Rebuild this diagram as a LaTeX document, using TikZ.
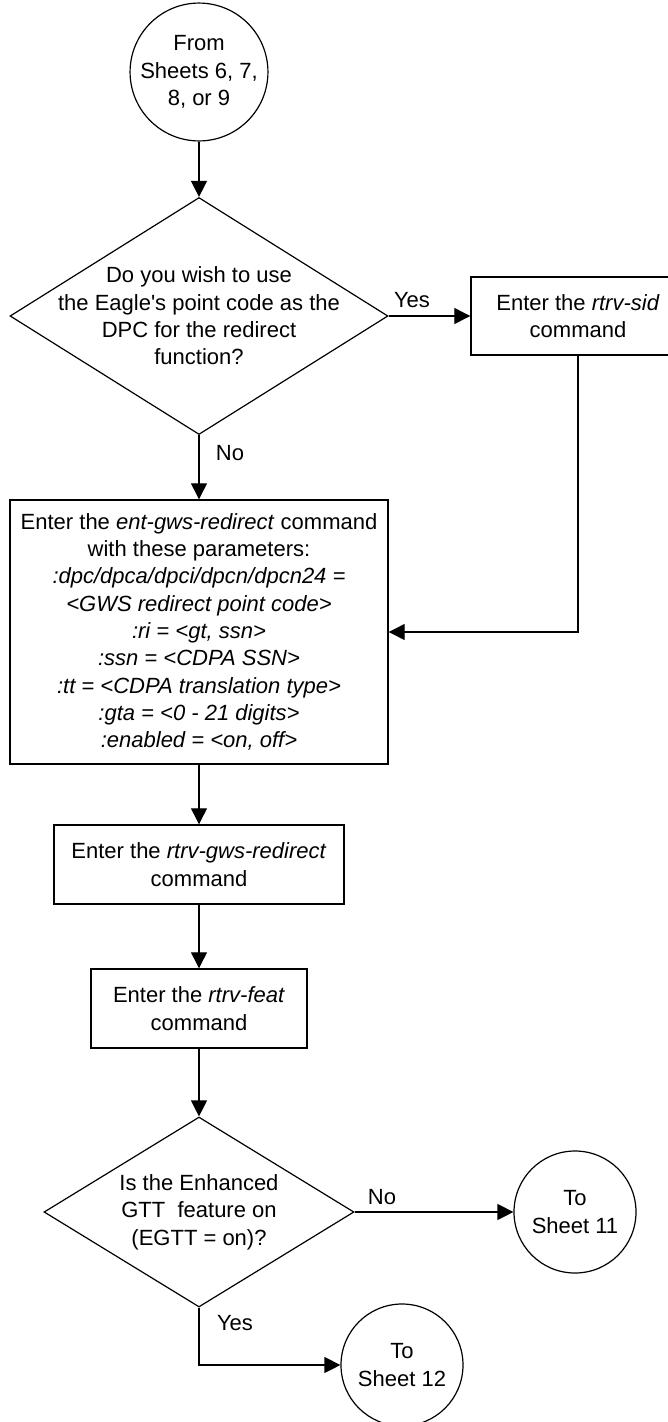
\documentclass[tikz,border=0pt]{standalone}
\usepackage{fontspec}
\setmainfont{Liberation Sans}
\usepackage{tikz}
\usetikzlibrary{shapes.geometric, arrows.meta, positioning}
\tikzset{
	procbox/.style={draw, rectangle, line width=1.4pt, align=center, inner sep=0pt}
}
\tikzset{
	decision/.style={draw, diamond, line width=1.2pt, inner sep=0pt}
}
\tikzset{
	sheetnode/.style={draw, circle, line width=1.2pt, align=center, inner sep=0pt, minimum size=#1}
}
\tikzset{
	flowarrow/.style={line width=1.2pt, -{Triangle[length=16pt,width=16pt]}}
}

\begin{document}
\begin{tikzpicture}[x=1pt, y=-1pt, font=\fontsize{22}{27.3}\selectfont]

			\useasboundingbox (0,0) rectangle (667,1422);

			\begin{scope}
				\coordinate (cFrom) at (199,72);
				\coordinate (cAsk) at (199,316);
				\coordinate (cSid) at (578,316);
				\coordinate (cEnt) at (199,632);
				\coordinate (cGws) at (199,864.5);
				\coordinate (cFeat) at (199,1008.5);
				\coordinate (cEgtt) at (199,1212);
				\coordinate (cTo11) at (575,1212);
				\coordinate (cTo12) at (402,1365);
			\end{scope}

			\begin{scope}
				\node[sheetnode=132pt] (from) at (cFrom) {From\\Sheets 6, 7,\\8, or 9};

				\node[decision, minimum width=378pt, minimum height=237pt,
					label={[align=center]center:Do you wish to use\\the Eagle\textquotesingle s point code as the\\DPC for the redirect\\function?}]
					(ask) at (cAsk) {};

				\node[procbox, minimum width=214pt, minimum height=78pt] (sid) at (cSid)
					{Enter the \textit{rtrv-sid}\\command};

				\node[procbox, minimum width=378pt, minimum height=264pt] (ent) at (cEnt)
					{Enter the \textit{ent-gws-redirect} command\\
					with these parameters:\\
					\textit{:dpc/dpca/dpci/dpcn/dpcn24 =}\\
					\textit{<GWS redirect point code>}\\
					\textit{:ri = <gt, ssn>}\\
					\textit{:ssn = <CDPA SSN>}\\
					\textit{:tt = <CDPA translation type>}\\
					\textit{:gta = <0 - 21 digits>}\\
					\textit{:enabled = <on, off>}};

				\node[procbox, minimum width=290pt, minimum height=79pt] (gws) at (cGws)
					{Enter the \textit{rtrv-gws-redirect}\\command};

				\node[procbox, minimum width=216pt, minimum height=79pt] (feat) at (cFeat)
					{Enter the \textit{rtrv-feat}\\command};

				\node[decision, minimum width=310pt, minimum height=190pt,
					label={[align=center]center:Is the Enhanced\\GTT\ \ feature on\\(EGTT = on)?}]
					(egtt) at (cEgtt) {};

				\node[sheetnode=122pt] (to11) at (cTo11) {To\\Sheet 11};
				\node[sheetnode=122pt] (to12) at (cTo12) {To\\Sheet 12};
			\end{scope}

			\begin{scope}
				\draw[flowarrow] (from) -- (ask);
				\draw[flowarrow] (ask.east) -- (sid.west);
				\draw[flowarrow] (ask.south) -- (ent.north);
				\draw[flowarrow] (sid.south) |- (ent.east);
				\draw[flowarrow] (ent.south) -- (gws.north);
				\draw[flowarrow] (gws.south) -- (feat.north);
				\draw[flowarrow] (feat.south) -- (egtt.north);
				\draw[flowarrow] (egtt.east) -- (to11.west);
				\draw[flowarrow] (egtt.south) |- (to12.west);
			\end{scope}

			\node (yesA) at (412,300) {Yes};
			\node (noA) at (230,453) {No};
			\node (noB) at (382,1197) {No};
			\node (yesB) at (235,1323) {Yes};

		\end{tikzpicture}
\end{document}
